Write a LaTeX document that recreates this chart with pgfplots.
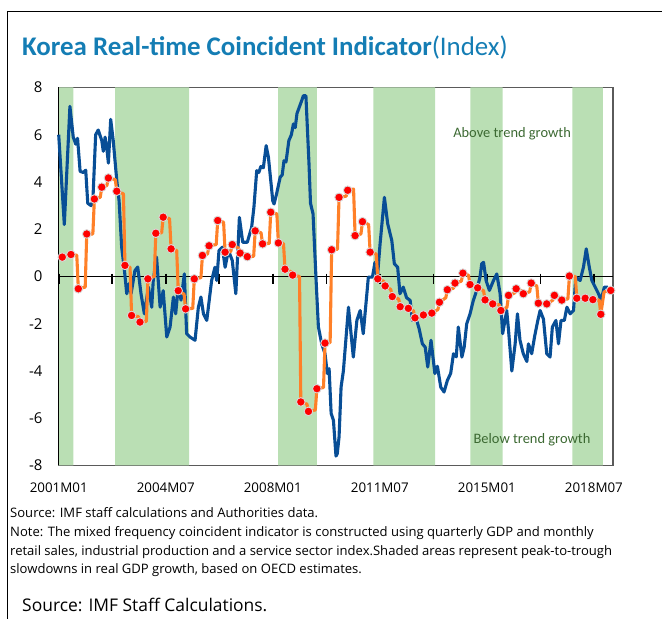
\documentclass[border=0pt]{standalone}
\usepackage{pgfplots}
\pgfplotsset{compat=1.18}
\usepackage{fontspec}
\setmainfont{Open Sans}
\newfontfamily\carlito{Carlito}
\definecolor{titleblue}{RGB}{20,125,180}
\definecolor{shade}{RGB}{186,223,180}
\definecolor{blueline}{RGB}{8,78,150}
\definecolor{orangeline}{RGB}{255,128,40}
\definecolor{annot}{RGB}{60,105,50}
\definecolor{boxgray}{RGB}{90,90,90}

\pgfplotstableread{
m v
0 6.0
2.2 2.2
4.4 7.2
5.7 5.9
6.7 5.6
7.4 5.85
8.4 4.45
9.7 4.4
10.6 4.5
11.4 3.1
12.7 3.0
13.4 3.2
14.5 6.0
15.5 6.2
16.9 5.75
17.5 5.3
18.2 5.9
18.8 5.5
19.5 4.8
20.4 6.65
21.4 5.75
22.8 4.05
23.7 3.2
24.7 1.25
25.8 0.25
26.7 -0.73
27.6 -0.3
28.4 -0.73
29.9 0.25
31.0 0.4
32.3 -0.73
33.6 -1.58
35.2 -0.45
36.5 -1.3
37.1 -0.17
38.4 0.82
39.8 -1.3
41.0 -0.6
42.4 -2.56
43.7 -2.14
45.0 -0.87
45.9 -1.58
46.9 -0.45
48.0 -1.0
49.3 0.11
50.2 -2.42
51.5 -2.56
53.5 -2.7
54.8 -1.3
55.8 -0.87
56.8 -1.58
58.1 -1.86
60.0 -0.17
61.3 0.39
62.0 -0.17
62.9 1.1
64.2 1.24
65.3 0.39
66.6 1.1
68.1 0.68
69.5 -0.73
70.9 2.5
72.2 1.45
74.0 1.45
75.7 2.08
76.6 2.93
77.7 4.48
78.5 4.4
79.3 4.65
80.3 4.6
81.4 5.54
82.3 5.04
84.0 3.2
84.5 3.07
85.5 3.5
86.9 4.2
87.7 4.3
88.4 4.9
89.2 4.85
90.3 5.75
91.3 6.0
92.1 6.46
92.8 6.3
93.5 6.9
95.2 7.4
96.0 7.65
97.0 7.65
98.2 4.8
98.8 3.1
99.8 2.65
101.0 -0.17
101.9 -2.14
103.2 -2.85
104.5 -3.27
105.4 -4.11
106.1 -3.9
106.9 -5.8
107.8 -6.09
108.8 -7.6
109.3 -7.5
110.0 -6.8
110.8 -4.68
111.7 -4.0
113.7 -1.3
115.6 -3.41
117.0 -1.86
118.3 -1.44
119.5 -2.42
121.5 -0.03
123.1 -0.03
124.1 0.6
125.0 -0.1
126.1 1.38
127.8 3.35
129.1 2.23
130.7 1.52
131.7 0.54
133.0 0.39
133.9 -0.73
135.2 -0.45
136.5 -0.9
137.9 -1.01
138.8 -1.86
140.1 -1.72
141.4 -2.2
142.7 -2.85
143.8 -2.99
144.8 -3.83
146.1 -2.7
147.6 -4.11
148.6 -3.8
149.9 -4.68
151.2 -4.89
152.5 -4.4
153.8 -4.1
154.9 -3.27
156.0 -3.4
156.8 -2.14
158.2 -3.41
159.1 -2.99
160.1 -2.0
161.4 -1.58
162.7 -1.01
164.0 -0.59
165.3 -0.03
166.0 0.54
166.7 0.6
167.7 -0.17
169.0 -0.59
170.6 -0.17
171.9 0.11
173.2 -0.73
174.2 -2.42
175.8 -1.44
176.6 -2.4
177.8 -4.0
179.1 -2.85
180.0 -1.58
181.0 -2.7
182.3 -3.27
183.7 -3.6
184.3 -2.85
185.6 -3.27
186.7 -2.56
188.0 -1.86
188.9 -1.44
190.2 -1.8
191.5 -3.27
192.8 -3.41
193.7 -2.14
195.1 -1.86
196.1 -2.85
197.1 -1.86
198.4 -1.86
199.4 -1.3
200.7 -1.58
202.0 -1.44
202.9 -0.03
204.6 -0.17
205.9 0.39
207.0 1.17
208.2 0.39
209.2 -0.17
210.5 -0.45
211.8 -0.73
212.8 -1.0
214.1 -0.45
215.5 -0.45
}\bluedata

\pgfplotstableread{
m v
1.4 0.82
4.2 0.9
4.8 0.93
7.1 0.9
7.7 -0.52
10.4 -0.45
11.0 1.8
13.4 1.8
14.0 3.28
16.3 3.35
16.9 3.78
18.9 3.85
19.5 4.17
22.2 4.1
22.8 3.61
25.4 3.5
26.0 0.47
28.0 0.39
28.6 -1.65
31.3 -1.7
31.9 -1.93
34.4 -1.9
35.0 -0.1
37.5 0.0
38.1 1.83
40.4 1.85
41.0 2.51
43.5 2.45
44.1 1.17
46.3 1.1
46.9 -0.6
49.2 -0.75
49.8 -1.37
52.6 -1.35
53.2 -0.1
55.8 -0.05
56.4 0.89
58.4 0.95
59.0 1.3
61.8 1.35
62.4 2.37
64.7 2.3
65.3 1.03
67.5 1.05
68.1 1.35
70.6 1.2
71.2 0.99
73.4 0.95
74.0 0.84
76.5 0.85
77.1 1.93
79.4 1.85
80.0 1.38
82.6 1.4
83.2 2.72
85.6 2.65
86.2 1.42
88.2 1.4
88.8 0.31
91.2 0.2
91.8 0.06
94.5 0.0
95.0 -5.31
97.4 -5.4
98.0 -5.71
100.7 -5.65
101.3 -4.75
103.9 -4.7
104.5 -2.82
106.5 -2.8
107.1 1.13
109.4 1.15
110.0 3.35
112.8 3.4
113.4 3.65
115.7 3.7
116.3 1.73
118.6 1.8
119.2 2.32
121.6 2.2
122.2 1.03
124.6 0.95
125.2 -0.1
127.5 -0.2
128.1 -0.4
130.3 -0.55
130.9 -0.85
133.4 -0.95
134.0 -1.28
136.6 -1.3
137.2 -1.35
139.2 -1.45
139.8 -1.75
142.5 -1.7
143.1 -1.63
145.8 -1.6
146.4 -1.55
148.8 -1.4
149.4 -1.09
151.9 -0.9
152.5 -0.56
154.9 -0.5
155.5 -0.28
158.0 -0.2
158.6 0.14
160.8 0.05
161.4 -0.34
163.8 -0.4
164.4 -0.48
166.7 -0.6
167.3 -0.99
169.7 -1.05
170.3 -1.16
172.9 -1.2
173.5 -1.44
175.9 -1.3
176.5 -0.8
178.9 -0.7
179.5 -0.52
181.7 -0.6
182.3 -0.73
184.8 -0.65
185.4 -0.28
187.6 -0.4
188.2 -1.13
190.9 -1.15
191.5 -1.16
193.9 -1.0
194.5 -0.8
196.8 -0.9
197.4 -1.0
199.8 -0.95
200.4 0.02
202.7 0.0
203.3 -0.92
206.0 -0.92
206.6 -0.92
209.0 -0.95
209.6 -0.98
212.1 -1.0
212.7 -1.6
214.0 -0.65
216.6 -0.59
}\orangedata

\pgfplotstableread{
m v
1.4 0.82
4.8 0.93
7.7 -0.52
11.0 1.8
14.0 3.28
16.9 3.78
19.5 4.17
22.8 3.61
26.0 0.47
28.6 -1.65
31.9 -1.93
35.0 -0.1
38.1 1.83
41.0 2.51
44.1 1.17
46.9 -0.6
49.8 -1.37
53.2 -0.1
56.4 0.89
59.0 1.3
62.4 2.37
65.3 1.03
68.1 1.35
71.2 0.99
74.0 0.84
77.1 1.93
80.0 1.38
83.2 2.72
86.2 1.42
88.8 0.31
91.8 0.06
95.0 -5.31
98.0 -5.71
101.3 -4.75
104.5 -2.82
107.1 1.13
110.0 3.35
113.4 3.65
116.3 1.73
119.2 2.32
122.2 1.03
125.2 -0.1
128.1 -0.4
130.9 -0.85
134.0 -1.28
137.2 -1.35
139.8 -1.75
143.1 -1.63
146.4 -1.55
149.4 -1.09
152.5 -0.56
155.5 -0.28
158.6 0.14
161.4 -0.34
164.4 -0.48
167.3 -0.99
170.3 -1.16
173.5 -1.44
176.5 -0.8
179.5 -0.52
182.3 -0.73
185.4 -0.28
188.2 -1.13
191.5 -1.16
194.5 -0.8
197.4 -1.0
200.4 0.02
203.3 -0.92
206.6 -0.92
209.6 -0.98
212.7 -1.6
216.6 -0.59
}\dotdata

\begin{document}
\begin{tikzpicture}[x=1bp,y=1bp]
\useasboundingbox (0,0) rectangle (662,619);
\draw[line width=1.5bp] (7.5,0) -- (7.5,607.5) -- (662,607.5);
\node[anchor=base west, inner sep=0, text=titleblue] at (22,563)
  {\carlito\fontsize{27}{32}\selectfont\textbf{Korea Real-time Coincident Indicator}(Index)};
\begin{axis}[
  at={(58.7bp,153.5bp)}, anchor=south west,
  scale only axis, width=554.3bp, height=378bp,
  xmin=0, xmax=217.5, ymin=-8, ymax=8,
  axis line style={draw=boxgray, line width=1.3bp},
  xtick={0,42,84,126,168,210},
  xticklabels={2001M01,2004M07,2008M01,2011M07,2015M01,2018M07},
  ytick={-8,-6,-4,-2,0,2,4,6,8},
  yticklabels={-8,-6,-4,-2,0,2,4,6,8},
  major tick length=0,
  xticklabel style={font=\fontsize{13.4}{16}\selectfont, anchor=north, inner sep=0, yshift=-17bp},
  yticklabel style={font=\fontsize{15}{18}\selectfont, anchor=east, inner sep=0, xshift=-16bp},
  clip=false,
]
\addplot[fill=shade, draw=none] coordinates {(0,-8) (5.8,-8) (5.8,8) (0,8) (0,-8)};
\addplot[fill=shade, draw=none] coordinates {(22.1,-8) (51.2,-8) (51.2,8) (22.1,8) (22.1,-8)};
\addplot[fill=shade, draw=none] coordinates {(86.1,-8) (101.3,-8) (101.3,8) (86.1,8) (86.1,-8)};
\addplot[fill=shade, draw=none] coordinates {(123.5,-8) (147.7,-8) (147.7,8) (123.5,8) (123.5,-8)};
\addplot[fill=shade, draw=none] coordinates {(161.5,-8) (174.2,-8) (174.2,8) (161.5,8) (161.5,-8)};
\addplot[fill=shade, draw=none] coordinates {(201.6,-8) (213.5,-8) (213.5,8) (201.6,8) (201.6,-8)};
\draw[black, line width=1.8bp] (axis cs:0,0) -- (axis cs:217.5,0);
\draw[black, line width=1.6bp] (axis cs:0,0.12) -- (axis cs:0,-0.32);
\draw[black, line width=1.6bp] (axis cs:21,0.12) -- (axis cs:21,-0.32);
\draw[black, line width=1.6bp] (axis cs:42,0.12) -- (axis cs:42,-0.32);
\draw[black, line width=1.6bp] (axis cs:63,0.12) -- (axis cs:63,-0.32);
\draw[black, line width=1.6bp] (axis cs:84,0.12) -- (axis cs:84,-0.32);
\draw[black, line width=1.6bp] (axis cs:105,0.12) -- (axis cs:105,-0.32);
\draw[black, line width=1.6bp] (axis cs:126,0.12) -- (axis cs:126,-0.32);
\draw[black, line width=1.6bp] (axis cs:147,0.12) -- (axis cs:147,-0.32);
\draw[black, line width=1.6bp] (axis cs:168,0.12) -- (axis cs:168,-0.32);
\draw[black, line width=1.6bp] (axis cs:189,0.12) -- (axis cs:189,-0.32);
\draw[black, line width=1.6bp] (axis cs:210,0.12) -- (axis cs:210,-0.32);
\draw[black, line width=1.5bp] (axis cs:0,-8) -- (axis cs:0,8);
\addplot[blueline, line width=3.1bp, line join=round] table[x=m, y=v] {\bluedata};
\addplot[orangeline, line width=3.1bp, line join=round] table[x=m, y=v] {\orangedata};
\addplot[only marks, mark=*, mark size=4.3bp, mark options={fill=red, draw=white!70!gray, line width=0.9bp}] table[x=m, y=v] {\dotdata};
\node[text=annot, font=\carlito\fontsize{14.5}{17}\selectfont] at (axis cs:177.9,6.05) {Above trend growth};
\node[text=annot, font=\carlito\fontsize{14.5}{17}\selectfont] at (axis cs:185.7,-6.9) {Below trend growth};
\end{axis}
\begin{scope}[every node/.style={anchor=base west, inner sep=0, font=\fontsize{13.1}{15}\selectfont}]
\node at (10,101) {Source: IMF staff calculations and Authorities data.};
\node at (10,82) {Note: The mixed frequency coincident indicator is constructed using quarterly GDP and monthly};
\node at (10,63) {retail sales, industrial production and a service sector index.Shaded areas represent peak-to-trough};
\node at (10,45) {slowdowns in real GDP growth, based on OECD estimates.};
\end{scope}
\node[anchor=base west, inner sep=0, font=\fontsize{17.5}{20}\selectfont] at (22,7) {Source: IMF Staff Calculations.};
\end{tikzpicture}
\end{document}
